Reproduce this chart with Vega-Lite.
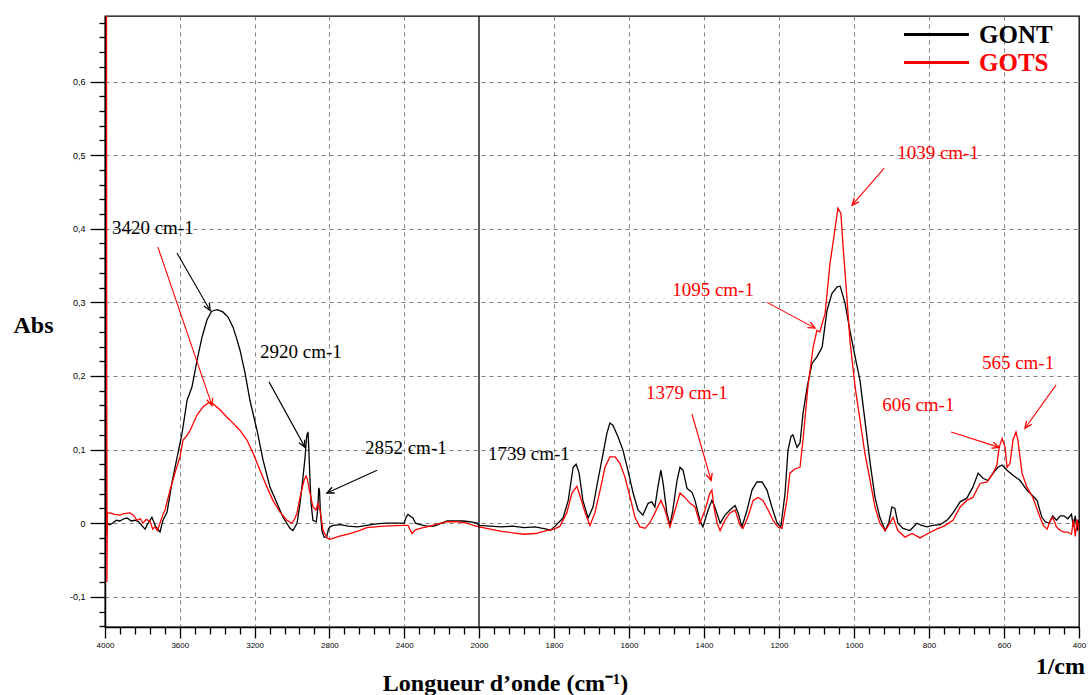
{
 "$schema": "https://vega.github.io/schema/vega-lite/v6.json",
 "width": 974, "height": 611,
 "autosize": {"type": "none"},
 "padding": {"left": 105, "top": 16, "right": 9, "bottom": 68},
 "background": "white",
 "config": {"view": {"stroke": "black", "strokeWidth": 1.3}, "font": "Liberation Sans"},
 "datasets": {
  "spectra": [
   {"s":"GONT","wn":3993,"a":0.16},{"s":"GONT","wn":3991,"a":-0.016},{"s":"GONT","wn":3988,"a":0.0},{"s":"GONT","wn":3975,"a":-0.002},{"s":"GONT","wn":3960,"a":0.0},{"s":"GONT","wn":3940,"a":0.004},{"s":"GONT","wn":3920,"a":0.003},{"s":"GONT","wn":3900,"a":0.006},{"s":"GONT","wn":3882,"a":0.007},{"s":"GONT","wn":3860,"a":0.003},{"s":"GONT","wn":3840,"a":0.004},{"s":"GONT","wn":3820,"a":0.002},{"s":"GONT","wn":3800,"a":-0.004},{"s":"GONT","wn":3786,"a":-0.008},{"s":"GONT","wn":3770,"a":0.0},{"s":"GONT","wn":3749,"a":0.008},{"s":"GONT","wn":3730,"a":-0.004},{"s":"GONT","wn":3706,"a":-0.012},{"s":"GONT","wn":3690,"a":0.004},{"s":"GONT","wn":3668,"a":0.015},{"s":"GONT","wn":3655,"a":0.035},{"s":"GONT","wn":3642,"a":0.055},{"s":"GONT","wn":3626,"a":0.075},{"s":"GONT","wn":3610,"a":0.095},{"s":"GONT","wn":3588,"a":0.122},{"s":"GONT","wn":3561,"a":0.167},{"s":"GONT","wn":3535,"a":0.185},{"s":"GONT","wn":3508,"a":0.221},{"s":"GONT","wn":3481,"a":0.253},{"s":"GONT","wn":3455,"a":0.276},{"s":"GONT","wn":3430,"a":0.288},{"s":"GONT","wn":3400,"a":0.29},{"s":"GONT","wn":3370,"a":0.287},{"s":"GONT","wn":3342,"a":0.28},{"s":"GONT","wn":3315,"a":0.266},{"s":"GONT","wn":3295,"a":0.25},{"s":"GONT","wn":3278,"a":0.235},{"s":"GONT","wn":3251,"a":0.204},{"s":"GONT","wn":3225,"a":0.167},{"s":"GONT","wn":3187,"a":0.126},{"s":"GONT","wn":3155,"a":0.086},{"s":"GONT","wn":3118,"a":0.049},{"s":"GONT","wn":3080,"a":0.027},{"s":"GONT","wn":3048,"a":0.008},{"s":"GONT","wn":3011,"a":-0.007},{"s":"GONT","wn":2995,"a":-0.01},{"s":"GONT","wn":2973,"a":0.0},{"s":"GONT","wn":2957,"a":0.027},{"s":"GONT","wn":2941,"a":0.063},{"s":"GONT","wn":2930,"a":0.09},{"s":"GONT","wn":2922,"a":0.117},{"s":"GONT","wn":2918,"a":0.122},{"s":"GONT","wn":2914,"a":0.123},{"s":"GONT","wn":2910,"a":0.1},{"s":"GONT","wn":2904,"a":0.06},{"s":"GONT","wn":2898,"a":0.027},{"s":"GONT","wn":2888,"a":0.004},{"s":"GONT","wn":2870,"a":0.002},{"s":"GONT","wn":2862,"a":0.02},{"s":"GONT","wn":2857,"a":0.048},{"s":"GONT","wn":2853,"a":0.045},{"s":"GONT","wn":2849,"a":0.02},{"s":"GONT","wn":2845,"a":0.005},{"s":"GONT","wn":2840,"a":-0.01},{"s":"GONT","wn":2829,"a":-0.019},{"s":"GONT","wn":2815,"a":-0.019},{"s":"GONT","wn":2805,"a":-0.008},{"s":"GONT","wn":2797,"a":-0.005},{"s":"GONT","wn":2780,"a":-0.003},{"s":"GONT","wn":2740,"a":-0.002},{"s":"GONT","wn":2700,"a":-0.004},{"s":"GONT","wn":2650,"a":-0.005},{"s":"GONT","wn":2600,"a":-0.003},{"s":"GONT","wn":2550,"a":-0.001},{"s":"GONT","wn":2500,"a":0.0},{"s":"GONT","wn":2450,"a":0.0},{"s":"GONT","wn":2400,"a":0.0},{"s":"GONT","wn":2390,"a":0.008},{"s":"GONT","wn":2380,"a":0.012},{"s":"GONT","wn":2365,"a":0.009},{"s":"GONT","wn":2353,"a":0.007},{"s":"GONT","wn":2340,"a":0.0},{"s":"GONT","wn":2315,"a":-0.002},{"s":"GONT","wn":2280,"a":-0.004},{"s":"GONT","wn":2240,"a":-0.004},{"s":"GONT","wn":2200,"a":0.0},{"s":"GONT","wn":2171,"a":0.003},{"s":"GONT","wn":2130,"a":0.003},{"s":"GONT","wn":2085,"a":0.003},{"s":"GONT","wn":2050,"a":0.002},{"s":"GONT","wn":2011,"a":0.0},{"s":"GONT","wn":2000,"a":-0.003},{"s":"GONT","wn":1970,"a":-0.004},{"s":"GONT","wn":1940,"a":-0.005},{"s":"GONT","wn":1910,"a":-0.004},{"s":"GONT","wn":1880,"a":-0.006},{"s":"GONT","wn":1850,"a":-0.005},{"s":"GONT","wn":1820,"a":-0.008},{"s":"GONT","wn":1810,"a":-0.01},{"s":"GONT","wn":1797,"a":-0.004},{"s":"GONT","wn":1776,"a":0.007},{"s":"GONT","wn":1762,"a":0.031},{"s":"GONT","wn":1749,"a":0.076},{"s":"GONT","wn":1741,"a":0.08},{"s":"GONT","wn":1733,"a":0.068},{"s":"GONT","wn":1723,"a":0.031},{"s":"GONT","wn":1709,"a":0.007},{"s":"GONT","wn":1696,"a":0.022},{"s":"GONT","wn":1683,"a":0.058},{"s":"GONT","wn":1669,"a":0.095},{"s":"GONT","wn":1659,"a":0.122},{"s":"GONT","wn":1651,"a":0.136},{"s":"GONT","wn":1643,"a":0.133},{"s":"GONT","wn":1629,"a":0.117},{"s":"GONT","wn":1616,"a":0.099},{"s":"GONT","wn":1603,"a":0.072},{"s":"GONT","wn":1589,"a":0.041},{"s":"GONT","wn":1576,"a":0.018},{"s":"GONT","wn":1563,"a":0.011},{"s":"GONT","wn":1549,"a":0.027},{"s":"GONT","wn":1539,"a":0.029},{"s":"GONT","wn":1531,"a":0.022},{"s":"GONT","wn":1523,"a":0.049},{"s":"GONT","wn":1515,"a":0.072},{"s":"GONT","wn":1509,"a":0.054},{"s":"GONT","wn":1499,"a":0.014},{"s":"GONT","wn":1491,"a":-0.003},{"s":"GONT","wn":1483,"a":0.018},{"s":"GONT","wn":1472,"a":0.058},{"s":"GONT","wn":1464,"a":0.076},{"s":"GONT","wn":1456,"a":0.072},{"s":"GONT","wn":1445,"a":0.047},{"s":"GONT","wn":1432,"a":0.042},{"s":"GONT","wn":1424,"a":0.031},{"s":"GONT","wn":1411,"a":0.004},{"s":"GONT","wn":1403,"a":-0.005},{"s":"GONT","wn":1389,"a":0.018},{"s":"GONT","wn":1379,"a":0.031},{"s":"GONT","wn":1371,"a":0.022},{"s":"GONT","wn":1357,"a":0.0},{"s":"GONT","wn":1344,"a":0.011},{"s":"GONT","wn":1331,"a":0.018},{"s":"GONT","wn":1317,"a":0.024},{"s":"GONT","wn":1309,"a":0.014},{"s":"GONT","wn":1299,"a":-0.005},{"s":"GONT","wn":1285,"a":0.018},{"s":"GONT","wn":1272,"a":0.045},{"s":"GONT","wn":1259,"a":0.056},{"s":"GONT","wn":1245,"a":0.056},{"s":"GONT","wn":1232,"a":0.045},{"s":"GONT","wn":1219,"a":0.022},{"s":"GONT","wn":1205,"a":0.0},{"s":"GONT","wn":1195,"a":-0.005},{"s":"GONT","wn":1189,"a":0.02},{"s":"GONT","wn":1184,"a":0.04},{"s":"GONT","wn":1176,"a":0.099},{"s":"GONT","wn":1168,"a":0.118},{"s":"GONT","wn":1163,"a":0.12},{"s":"GONT","wn":1152,"a":0.103},{"s":"GONT","wn":1144,"a":0.109},{"s":"GONT","wn":1136,"a":0.149},{"s":"GONT","wn":1125,"a":0.185},{"s":"GONT","wn":1112,"a":0.217},{"s":"GONT","wn":1099,"a":0.226},{"s":"GONT","wn":1085,"a":0.239},{"s":"GONT","wn":1072,"a":0.289},{"s":"GONT","wn":1059,"a":0.312},{"s":"GONT","wn":1045,"a":0.321},{"s":"GONT","wn":1037,"a":0.322},{"s":"GONT","wn":1024,"a":0.299},{"s":"GONT","wn":1011,"a":0.262},{"s":"GONT","wn":997,"a":0.226},{"s":"GONT","wn":984,"a":0.194},{"s":"GONT","wn":971,"a":0.14},{"s":"GONT","wn":957,"a":0.082},{"s":"GONT","wn":944,"a":0.035},{"s":"GONT","wn":931,"a":0.008},{"s":"GONT","wn":917,"a":-0.01},{"s":"GONT","wn":907,"a":0.001},{"s":"GONT","wn":899,"a":0.022},{"s":"GONT","wn":891,"a":0.02},{"s":"GONT","wn":883,"a":0.0},{"s":"GONT","wn":869,"a":-0.007},{"s":"GONT","wn":851,"a":-0.01},{"s":"GONT","wn":832,"a":0.0},{"s":"GONT","wn":820,"a":-0.003},{"s":"GONT","wn":805,"a":-0.005},{"s":"GONT","wn":790,"a":-0.003},{"s":"GONT","wn":770,"a":-0.002},{"s":"GONT","wn":750,"a":0.005},{"s":"GONT","wn":736,"a":0.014},{"s":"GONT","wn":717,"a":0.029},{"s":"GONT","wn":699,"a":0.034},{"s":"GONT","wn":683,"a":0.049},{"s":"GONT","wn":669,"a":0.068},{"s":"GONT","wn":656,"a":0.061},{"s":"GONT","wn":643,"a":0.058},{"s":"GONT","wn":629,"a":0.068},{"s":"GONT","wn":616,"a":0.076},{"s":"GONT","wn":605,"a":0.079},{"s":"GONT","wn":592,"a":0.072},{"s":"GONT","wn":576,"a":0.065},{"s":"GONT","wn":557,"a":0.058},{"s":"GONT","wn":539,"a":0.045},{"s":"GONT","wn":525,"a":0.038},{"s":"GONT","wn":512,"a":0.031},{"s":"GONT","wn":499,"a":0.008},{"s":"GONT","wn":490,"a":0.002},{"s":"GONT","wn":480,"a":0.0},{"s":"GONT","wn":470,"a":0.01},{"s":"GONT","wn":460,"a":0.004},{"s":"GONT","wn":450,"a":0.01},{"s":"GONT","wn":440,"a":0.01},{"s":"GONT","wn":430,"a":0.006},{"s":"GONT","wn":420,"a":0.012},{"s":"GONT","wn":415,"a":-0.005},{"s":"GONT","wn":410,"a":0.01},{"s":"GONT","wn":405,"a":-0.01},{"s":"GONT","wn":400,"a":0.005},
   {"s":"GOTS","wn":3992,"a":0.75},{"s":"GOTS","wn":3990,"a":-0.08},{"s":"GOTS","wn":3987,"a":0.014},{"s":"GOTS","wn":3973,"a":0.014},{"s":"GOTS","wn":3950,"a":0.012},{"s":"GOTS","wn":3920,"a":0.011},{"s":"GOTS","wn":3900,"a":0.013},{"s":"GOTS","wn":3866,"a":0.014},{"s":"GOTS","wn":3845,"a":0.01},{"s":"GOTS","wn":3829,"a":0.004},{"s":"GOTS","wn":3810,"a":0.006},{"s":"GOTS","wn":3797,"a":0.0},{"s":"GOTS","wn":3780,"a":0.005},{"s":"GOTS","wn":3759,"a":0.003},{"s":"GOTS","wn":3745,"a":-0.008},{"s":"GOTS","wn":3733,"a":-0.005},{"s":"GOTS","wn":3720,"a":-0.01},{"s":"GOTS","wn":3706,"a":0.0},{"s":"GOTS","wn":3690,"a":0.012},{"s":"GOTS","wn":3679,"a":0.018},{"s":"GOTS","wn":3652,"a":0.045},{"s":"GOTS","wn":3626,"a":0.068},{"s":"GOTS","wn":3599,"a":0.09},{"s":"GOTS","wn":3583,"a":0.113},{"s":"GOTS","wn":3565,"a":0.118},{"s":"GOTS","wn":3545,"a":0.126},{"s":"GOTS","wn":3508,"a":0.147},{"s":"GOTS","wn":3476,"a":0.158},{"s":"GOTS","wn":3445,"a":0.164},{"s":"GOTS","wn":3422,"a":0.162},{"s":"GOTS","wn":3385,"a":0.154},{"s":"GOTS","wn":3348,"a":0.144},{"s":"GOTS","wn":3315,"a":0.136},{"s":"GOTS","wn":3278,"a":0.126},{"s":"GOTS","wn":3241,"a":0.113},{"s":"GOTS","wn":3208,"a":0.095},{"s":"GOTS","wn":3171,"a":0.072},{"s":"GOTS","wn":3134,"a":0.049},{"s":"GOTS","wn":3102,"a":0.031},{"s":"GOTS","wn":3064,"a":0.015},{"s":"GOTS","wn":3027,"a":0.004},{"s":"GOTS","wn":3000,"a":0.0},{"s":"GOTS","wn":2985,"a":0.006},{"s":"GOTS","wn":2973,"a":0.014},{"s":"GOTS","wn":2957,"a":0.035},{"s":"GOTS","wn":2936,"a":0.058},{"s":"GOTS","wn":2925,"a":0.064},{"s":"GOTS","wn":2918,"a":0.06},{"s":"GOTS","wn":2904,"a":0.041},{"s":"GOTS","wn":2888,"a":0.022},{"s":"GOTS","wn":2872,"a":0.018},{"s":"GOTS","wn":2861,"a":0.027},{"s":"GOTS","wn":2850,"a":0.018},{"s":"GOTS","wn":2834,"a":-0.01},{"s":"GOTS","wn":2813,"a":-0.02},{"s":"GOTS","wn":2797,"a":-0.022},{"s":"GOTS","wn":2750,"a":-0.018},{"s":"GOTS","wn":2690,"a":-0.014},{"s":"GOTS","wn":2640,"a":-0.01},{"s":"GOTS","wn":2599,"a":-0.006},{"s":"GOTS","wn":2513,"a":-0.004},{"s":"GOTS","wn":2406,"a":-0.003},{"s":"GOTS","wn":2380,"a":-0.003},{"s":"GOTS","wn":2370,"a":-0.008},{"s":"GOTS","wn":2358,"a":-0.014},{"s":"GOTS","wn":2340,"a":-0.009},{"s":"GOTS","wn":2315,"a":-0.007},{"s":"GOTS","wn":2262,"a":-0.004},{"s":"GOTS","wn":2220,"a":-0.001},{"s":"GOTS","wn":2171,"a":0.002},{"s":"GOTS","wn":2120,"a":0.002},{"s":"GOTS","wn":2064,"a":0.0},{"s":"GOTS","wn":2030,"a":-0.003},{"s":"GOTS","wn":2000,"a":-0.005},{"s":"GOTS","wn":1970,"a":-0.008},{"s":"GOTS","wn":1940,"a":-0.011},{"s":"GOTS","wn":1910,"a":-0.013},{"s":"GOTS","wn":1880,"a":-0.015},{"s":"GOTS","wn":1850,"a":-0.014},{"s":"GOTS","wn":1820,"a":-0.01},{"s":"GOTS","wn":1800,"a":-0.008},{"s":"GOTS","wn":1784,"a":-0.004},{"s":"GOTS","wn":1766,"a":0.014},{"s":"GOTS","wn":1752,"a":0.041},{"s":"GOTS","wn":1739,"a":0.05},{"s":"GOTS","wn":1731,"a":0.038},{"s":"GOTS","wn":1717,"a":0.014},{"s":"GOTS","wn":1704,"a":-0.003},{"s":"GOTS","wn":1691,"a":0.014},{"s":"GOTS","wn":1677,"a":0.045},{"s":"GOTS","wn":1664,"a":0.076},{"s":"GOTS","wn":1651,"a":0.09},{"s":"GOTS","wn":1637,"a":0.09},{"s":"GOTS","wn":1624,"a":0.081},{"s":"GOTS","wn":1611,"a":0.063},{"s":"GOTS","wn":1597,"a":0.035},{"s":"GOTS","wn":1584,"a":0.008},{"s":"GOTS","wn":1571,"a":-0.005},{"s":"GOTS","wn":1557,"a":-0.007},{"s":"GOTS","wn":1544,"a":0.001},{"s":"GOTS","wn":1531,"a":0.014},{"s":"GOTS","wn":1515,"a":0.031},{"s":"GOTS","wn":1504,"a":0.018},{"s":"GOTS","wn":1491,"a":-0.005},{"s":"GOTS","wn":1477,"a":0.018},{"s":"GOTS","wn":1464,"a":0.041},{"s":"GOTS","wn":1451,"a":0.035},{"s":"GOTS","wn":1437,"a":0.027},{"s":"GOTS","wn":1424,"a":0.022},{"s":"GOTS","wn":1411,"a":0.0},{"s":"GOTS","wn":1397,"a":0.018},{"s":"GOTS","wn":1385,"a":0.04},{"s":"GOTS","wn":1379,"a":0.045},{"s":"GOTS","wn":1373,"a":0.02},{"s":"GOTS","wn":1365,"a":0.0},{"s":"GOTS","wn":1357,"a":-0.01},{"s":"GOTS","wn":1344,"a":0.004},{"s":"GOTS","wn":1331,"a":0.014},{"s":"GOTS","wn":1317,"a":0.018},{"s":"GOTS","wn":1304,"a":-0.003},{"s":"GOTS","wn":1296,"a":-0.007},{"s":"GOTS","wn":1283,"a":0.008},{"s":"GOTS","wn":1269,"a":0.031},{"s":"GOTS","wn":1256,"a":0.035},{"s":"GOTS","wn":1243,"a":0.031},{"s":"GOTS","wn":1229,"a":0.018},{"s":"GOTS","wn":1216,"a":0.004},{"s":"GOTS","wn":1203,"a":-0.005},{"s":"GOTS","wn":1192,"a":-0.007},{"s":"GOTS","wn":1179,"a":0.031},{"s":"GOTS","wn":1171,"a":0.068},{"s":"GOTS","wn":1157,"a":0.074},{"s":"GOTS","wn":1144,"a":0.076},{"s":"GOTS","wn":1136,"a":0.113},{"s":"GOTS","wn":1123,"a":0.185},{"s":"GOTS","wn":1109,"a":0.239},{"s":"GOTS","wn":1099,"a":0.262},{"s":"GOTS","wn":1091,"a":0.26},{"s":"GOTS","wn":1077,"a":0.285},{"s":"GOTS","wn":1064,"a":0.353},{"s":"GOTS","wn":1051,"a":0.398},{"s":"GOTS","wn":1043,"a":0.428},{"s":"GOTS","wn":1035,"a":0.421},{"s":"GOTS","wn":1029,"a":0.375},{"s":"GOTS","wn":1019,"a":0.307},{"s":"GOTS","wn":1011,"a":0.249},{"s":"GOTS","wn":997,"a":0.185},{"s":"GOTS","wn":984,"a":0.14},{"s":"GOTS","wn":971,"a":0.095},{"s":"GOTS","wn":957,"a":0.058},{"s":"GOTS","wn":944,"a":0.022},{"s":"GOTS","wn":931,"a":0.0},{"s":"GOTS","wn":917,"a":-0.01},{"s":"GOTS","wn":904,"a":0.0},{"s":"GOTS","wn":896,"a":0.008},{"s":"GOTS","wn":883,"a":-0.01},{"s":"GOTS","wn":864,"a":-0.019},{"s":"GOTS","wn":845,"a":-0.014},{"s":"GOTS","wn":824,"a":-0.02},{"s":"GOTS","wn":803,"a":-0.014},{"s":"GOTS","wn":780,"a":-0.008},{"s":"GOTS","wn":760,"a":-0.004},{"s":"GOTS","wn":736,"a":0.004},{"s":"GOTS","wn":717,"a":0.022},{"s":"GOTS","wn":699,"a":0.031},{"s":"GOTS","wn":683,"a":0.035},{"s":"GOTS","wn":664,"a":0.054},{"s":"GOTS","wn":645,"a":0.056},{"s":"GOTS","wn":629,"a":0.068},{"s":"GOTS","wn":619,"a":0.079},{"s":"GOTS","wn":613,"a":0.103},{"s":"GOTS","wn":605,"a":0.115},{"s":"GOTS","wn":597,"a":0.103},{"s":"GOTS","wn":592,"a":0.076},{"s":"GOTS","wn":584,"a":0.081},{"s":"GOTS","wn":576,"a":0.113},{"s":"GOTS","wn":568,"a":0.124},{"s":"GOTS","wn":563,"a":0.113},{"s":"GOTS","wn":552,"a":0.068},{"s":"GOTS","wn":539,"a":0.049},{"s":"GOTS","wn":523,"a":0.035},{"s":"GOTS","wn":504,"a":0.008},{"s":"GOTS","wn":495,"a":-0.003},{"s":"GOTS","wn":485,"a":-0.008},{"s":"GOTS","wn":475,"a":0.005},{"s":"GOTS","wn":470,"a":0.008},{"s":"GOTS","wn":460,"a":-0.005},{"s":"GOTS","wn":450,"a":-0.01},{"s":"GOTS","wn":440,"a":-0.012},{"s":"GOTS","wn":430,"a":-0.012},{"s":"GOTS","wn":420,"a":-0.015},{"s":"GOTS","wn":415,"a":0.005},{"s":"GOTS","wn":410,"a":-0.018},{"s":"GOTS","wn":405,"a":0.005},{"s":"GOTS","wn":400,"a":-0.01}
  ],
  "labels": [
   {"t":"3420 cm-1","wn":3963,"a":0.401,"s":"GONT"},
   {"t":"2920 cm-1","wn":3171,"a":0.232,"s":"GONT"},
   {"t":"2852 cm-1","wn":2610,"a":0.102,"s":"GONT"},
   {"t":"1739 cm-1","wn":1976,"a":0.094,"s":"GONT"},
   {"t":"1379 cm-1","wn":1555,"a":0.177,"s":"GOTS"},
   {"t":"1095 cm-1","wn":1485,"a":0.317,"s":"GOTS"},
   {"t":"1039 cm-1","wn":885,"a":0.503,"s":"GOTS"},
   {"t":"606 cm-1","wn":925,"a":0.16,"s":"GOTS"},
   {"t":"565 cm-1","wn":659,"a":0.217,"s":"GOTS"}
  ],
  "arrows": [
   {"s":"GONT","xs":3615,"ys":0.367,"xe":3438,"ye":0.289},
   {"s":"GOTS","xs":3717,"ys":0.375,"xe":3428,"ye":0.16},
   {"s":"GONT","xs":3123,"ys":0.192,"xe":2930,"ye":0.103},
   {"s":"GONT","xs":2545,"ys":0.072,"xe":2813,"ye":0.041},
   {"s":"GOTS","xs":1432,"ys":0.148,"xe":1381,"ye":0.058},
   {"s":"GOTS","xs":1232,"ys":0.3,"xe":1104,"ye":0.265},
   {"s":"GOTS","xs":920,"ys":0.482,"xe":1005,"ye":0.432},
   {"s":"GOTS","xs":741,"ys":0.124,"xe":613,"ye":0.103},
   {"s":"GOTS","xs":461,"ys":0.188,"xe":544,"ye":0.129}
  ]
 },
 "layer": [
  {
   "data": {"name": "spectra"},
   "mark": {"type": "line", "clip": true, "strokeWidth": 1.3},
   "encoding": {
    "x": {"field": "wn", "type": "quantitative",
     "scale": {"domain": [4000, 2000, 400], "range": [0, 374, 974], "nice": false, "zero": false},
     "axis": {
      "values": [4000,3920,3840,3760,3680,3600,3520,3440,3360,3280,3200,3120,3040,2960,2880,2800,2720,2640,2560,2480,2400,2320,2240,2160,2080,2000,1960,1920,1880,1840,1800,1760,1720,1680,1640,1600,1560,1520,1480,1440,1400,1360,1320,1280,1240,1200,1160,1120,1080,1040,1000,960,920,880,840,800,760,720,680,640,600,560,520,480,440,400],
      "tickCount": 200,
      "format": "d",
      "labelExpr": "(datum.value >= 2000 ? datum.value % 400 == 0 : datum.value % 200 == 0) ? datum.label : ''",
      "labelFont": "Liberation Sans", "labelFontSize": 8, "labelColor": "black", "labelPadding": 3, "labelFlush": false, "labelOverlap": false,
      "tickSize": {"condition": {"test": "(datum.value >= 2000 ? datum.value % 400 == 0 : datum.value % 200 == 0)", "value": 11}, "value": 7},
      "tickColor": "black", "tickWidth": 1.3,
      "domainColor": "black", "domainWidth": 1.5,
      "grid": true, "gridColor": "#808080", "gridDash": [4, 4], "gridWidth": 1,
      "gridOpacity": {"condition": {"test": "(datum.value >= 2000 ? datum.value % 400 == 0 : datum.value % 200 == 0) && datum.value != 2000 && datum.value != 4000 && datum.value != 400", "value": 1}, "value": 0},
      "title": "Longueur d’onde (cm⁻¹)", "titleFont": "Liberation Serif", "titleFontSize": 24, "titleFontWeight": "bold", "titleColor": "black",
      "titleX": 400, "titleY": 56, "titleAlign": "center", "titleBaseline": "middle"
     }
    },
    "y": {"field": "a", "type": "quantitative",
     "scale": {"domain": [-0.141, 0.689], "nice": false, "zero": false},
     "axis": {
      "zindex": 0,
      "values": [-0.14,-0.12,-0.1,-0.08,-0.06,-0.04,-0.02,0,0.02,0.04,0.06,0.08,0.1,0.12,0.14,0.16,0.18,0.2,0.22,0.24,0.26,0.28,0.3,0.32,0.34,0.36,0.38,0.4,0.42,0.44,0.46,0.48,0.5,0.52,0.54,0.56,0.58,0.6,0.62,0.64,0.66,0.68],
      "tickCount": 200,
      "labelExpr": "abs(round(datum.value*100)) % 10 == 0 ? (abs(datum.value) < 0.001 ? '0' : (datum.value < 0 ? '-' : '') + replace(format(abs(datum.value), '.1f'), '.', ',')) : ''",
      "labelFont": "Liberation Sans", "labelFontSize": 9, "labelColor": "black", "labelPadding": 5, "labelOverlap": false,
      "tickSize": {"condition": {"test": "abs(round(datum.value*100)) % 10 == 0", "value": 15}, "value": 6},
      "tickColor": "black", "tickWidth": 1.3,
      "domainColor": "black", "domainWidth": 1.5,
      "grid": true, "gridColor": "#808080", "gridDash": [4, 4], "gridWidth": 1,
      "gridOpacity": {"condition": {"test": "abs(round(datum.value*100)) % 10 == 0", "value": 1}, "value": 0},
      "title": "Abs", "titleAngle": 0, "titleFont": "Liberation Serif", "titleFontSize": 24, "titleFontWeight": "bold", "titleColor": "black",
      "titleX": -72, "titleY": 309, "titleAlign": "center", "titleBaseline": "middle"
     }
    },
    "color": {"field": "s", "type": "nominal",
     "scale": {"domain": ["GONT", "GOTS"], "range": ["#000000", "#ff0000"]},
     "legend": {"orient": "none", "legendX": 819, "legendY": 6, "title": null,
      "symbolType": "M-3.25,0H3.25", "symbolSize": 400, "symbolStrokeWidth": 3,
      "labelFont": "Liberation Serif", "labelFontSize": 25, "labelFontWeight": "bold", "labelOffset": 30, "rowPadding": 2, "padding": 0, "labelLimit": 300,
      "encode": {"labels": {"update": {"fill": {"signal": "datum.value === 'GOTS' ? '#ff0000' : '#000000'"}}}}
     }
    }
   }
  },
  {
   "data": {"values": [{}]},
   "mark": {"type": "rule", "color": "black", "strokeWidth": 1.3},
   "encoding": {"x": {"datum": 2000}, "y": {"datum": -0.141}, "y2": {"datum": 0.689}}
  },
  {
   "data": {"name": "arrows"},
   "mark": {"type": "rule", "strokeWidth": 1.1},
   "encoding": {
    "x": {"field": "xs", "type": "quantitative"},
    "y": {"field": "ys", "type": "quantitative"},
    "x2": {"field": "xe"},
    "y2": {"field": "ye"},
    "color": {"field": "s", "type": "nominal", "legend": null}
   }
  },
  {
   "data": {"name": "arrows"},
   "transform": [
    {"calculate": "atan2((datum.xs - datum.xe) * (datum.xe >= 2000 ? 0.187 : 0.375), (datum.ye - datum.ys) * 736) * 180 / PI", "as": "ang"}
   ],
   "mark": {"type": "point", "shape": "M-0.45,1L0,0L0.45,1", "filled": false, "size": 196, "strokeWidth": 1.3, "opacity": 1},
   "encoding": {
    "x": {"field": "xe", "type": "quantitative"},
    "y": {"field": "ye", "type": "quantitative"},
    "angle": {"field": "ang", "type": "quantitative", "scale": null},
    "color": {"field": "s", "type": "nominal", "legend": null}
   }
  },
  {
   "data": {"name": "labels"},
   "mark": {"type": "text", "align": "left", "baseline": "middle", "font": "Liberation Serif", "fontSize": 19},
   "encoding": {
    "x": {"field": "wn", "type": "quantitative"},
    "y": {"field": "a", "type": "quantitative"},
    "text": {"field": "t"},
    "color": {"field": "s", "type": "nominal", "legend": null}
   }
  },
  {
   "data": {"values": [{}]},
   "mark": {"type": "text", "align": "right", "baseline": "middle", "font": "Liberation Serif", "fontSize": 24, "fontWeight": "bold", "dx": 6, "color": "black"},
   "encoding": {"x": {"datum": 400}, "y": {"datum": -0.196}, "text": {"value": "1/cm"}}
  }
 ]
}
